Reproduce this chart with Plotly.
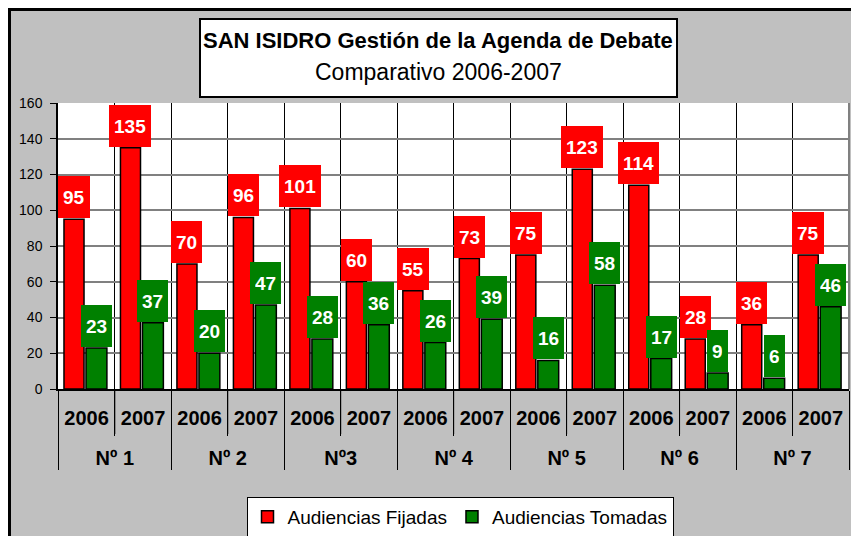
import plotly.graph_objects as go

# ---- data ----
groups = ["Nº 1", "Nº 2", "Nº3", "Nº 4", "Nº 5", "Nº 6", "Nº 7"]
years = ["2006", "2007"]
fijadas = [95, 135, 70, 96, 101, 60, 55, 73, 75, 123, 114, 28, 36, 75]
tomadas = [23, 37, 20, 47, 28, 36, 26, 39, 16, 58, 17, 9, 6, 46]
series_names = ["Audiencias Fijadas", "Audiencias Tomadas"]
title_line1 = "SAN ISIDRO Gestión de la Agenda de Debate"
title_line2 = "Comparativo 2006-2007"

# outer level labels get an empty first line so they sit lower, like the original
outer = ["<br>" + g for g in groups for _ in years]
inner = [y for _ in groups for y in years]

FONT = "Liberation Sans, Arial, sans-serif"
RED = "#FF0000"
GREEN = "#008000"

# layout geometry (figure pixels); page body adds an 8px offset
OFF = 8
W, H = 859, 536
ML, MR, MT, MB = 50, 18, 95, 155
PW, PH = W - ML - MR, H - MT - MB


def px2x(px):  # screen pixel -> paper x
    return (px - OFF - ML) / PW


def px2y(py):  # screen pixel -> paper y
    return (H - MB - (py - OFF)) / PH


RED_OFF, RED_W = -0.40, 0.355
GRN_OFF, GRN_W = -0.01, 0.37

fig = go.Figure()
fig.add_trace(go.Bar(
    x=[outer, inner], y=fijadas, name=series_names[0],
    marker=dict(color=RED, line=dict(color="black", width=1.5)),
    offset=RED_OFF, width=RED_W,
))
fig.add_trace(go.Bar(
    x=[outer, inner], y=tomadas, name=series_names[1],
    marker=dict(color=GREEN, line=dict(color="black", width=1.5)),
    offset=GRN_OFF, width=GRN_W,
))

annotations = []
for i, (f, t) in enumerate(zip(fijadas, tomadas)):
    for val, off, w, col in ((f, RED_OFF, RED_W, RED), (t, GRN_OFF, GRN_W, GREEN)):
        annotations.append(dict(
            x=i + off + w / 2, y=val, xref="x", yref="y",
            text=str(val), showarrow=False,
            xanchor="center", yanchor="bottom", yshift=1,
            font=dict(family=FONT, size=19, color="white", weight="bold"),
            bgcolor=col, borderpad=5, borderwidth=0, height=32,
        ))

# title texts
annotations.append(dict(
    x=px2x(438), y=px2y(41), xref="paper", yref="paper", showarrow=False,
    text=title_line1, xanchor="center", yanchor="middle",
    font=dict(family=FONT, size=22, color="black", weight="bold"),
))
annotations.append(dict(
    x=px2x(438), y=px2y(72), xref="paper", yref="paper", showarrow=False,
    text=title_line2, xanchor="center", yanchor="middle",
    font=dict(family=FONT, size=23, color="black"),
))

shapes = [
    # black chart frame along the figure edge
    dict(type="rect", xref="paper", yref="paper", layer="below",
         x0=(1.5 - ML) / PW, x1=(W + 20 - ML) / PW,
         y0=-(MB + 20) / PH, y1=(H - MB - 1.5) / PH,
         fillcolor="#C0C0C0", line=dict(color="black", width=3)),
    # white plot area
    dict(type="rect", xref="paper", yref="paper", layer="below",
         x0=0, x1=1, y0=0, y1=1, fillcolor="white", line=dict(width=0)),
    # title box
    dict(type="rect", xref="paper", yref="paper", layer="above",
         x0=px2x(200), x1=px2x(677), y0=px2y(97), y1=px2y(19),
         fillcolor="white", line=dict(color="black", width=2)),
    # right border of plot area
    dict(type="line", xref="paper", yref="paper", layer="above",
         x0=1, x1=1, y0=0, y1=1, line=dict(color="#808080", width=2)),
]
# separators between the year labels inside each group
for gi in range(len(groups)):
    xb = gi * len(years) + 0.5
    shapes.append(dict(type="line", xref="x", yref="paper", layer="above",
                       x0=xb, x1=xb, y0=0, y1=-45 / PH,
                       line=dict(color="black", width=1)))

fig.update_layout(
    width=W, height=H,
    margin=dict(l=ML, r=MR, t=MT, b=MB, autoexpand=False),
    paper_bgcolor="#C0C0C0", plot_bgcolor="rgba(0,0,0,0)",
    barmode="group",
    showlegend=True,
    legend=dict(
        orientation="h", x=px2x(460), xanchor="center",
        y=px2y(497), yanchor="top",
        bgcolor="white", bordercolor="black", borderwidth=1,
        font=dict(family=FONT, size=19, color="black"),
        itemwidth=30,
    ),
    annotations=annotations,
    shapes=shapes,
    xaxis=dict(
        type="multicategory", tickson="boundaries",
        ticks="outside", ticklen=45, tickcolor="black", tickwidth=1,
        ticklabelstandoff=10,
        showgrid=True, gridcolor="black", gridwidth=1,
        showline=True, linecolor="black", linewidth=2,
        showdividers=True, dividercolor="black", dividerwidth=1,
        tickfont=dict(family=FONT, size=20, color="black", weight="bold"),
    ),
    yaxis=dict(
        range=[0, 160], dtick=20, tick0=0,
        ticks="outside", ticklen=6, tickcolor="black",
        ticklabelstandoff=5,
        showgrid=True, gridcolor="#808080", gridwidth=2,
        showline=True, linecolor="black", linewidth=1.5,
        zeroline=False,
        tickfont=dict(family=FONT, size=14, color="black"),
    ),
    font=dict(family=FONT),
)

fig.write_html("out.html")
